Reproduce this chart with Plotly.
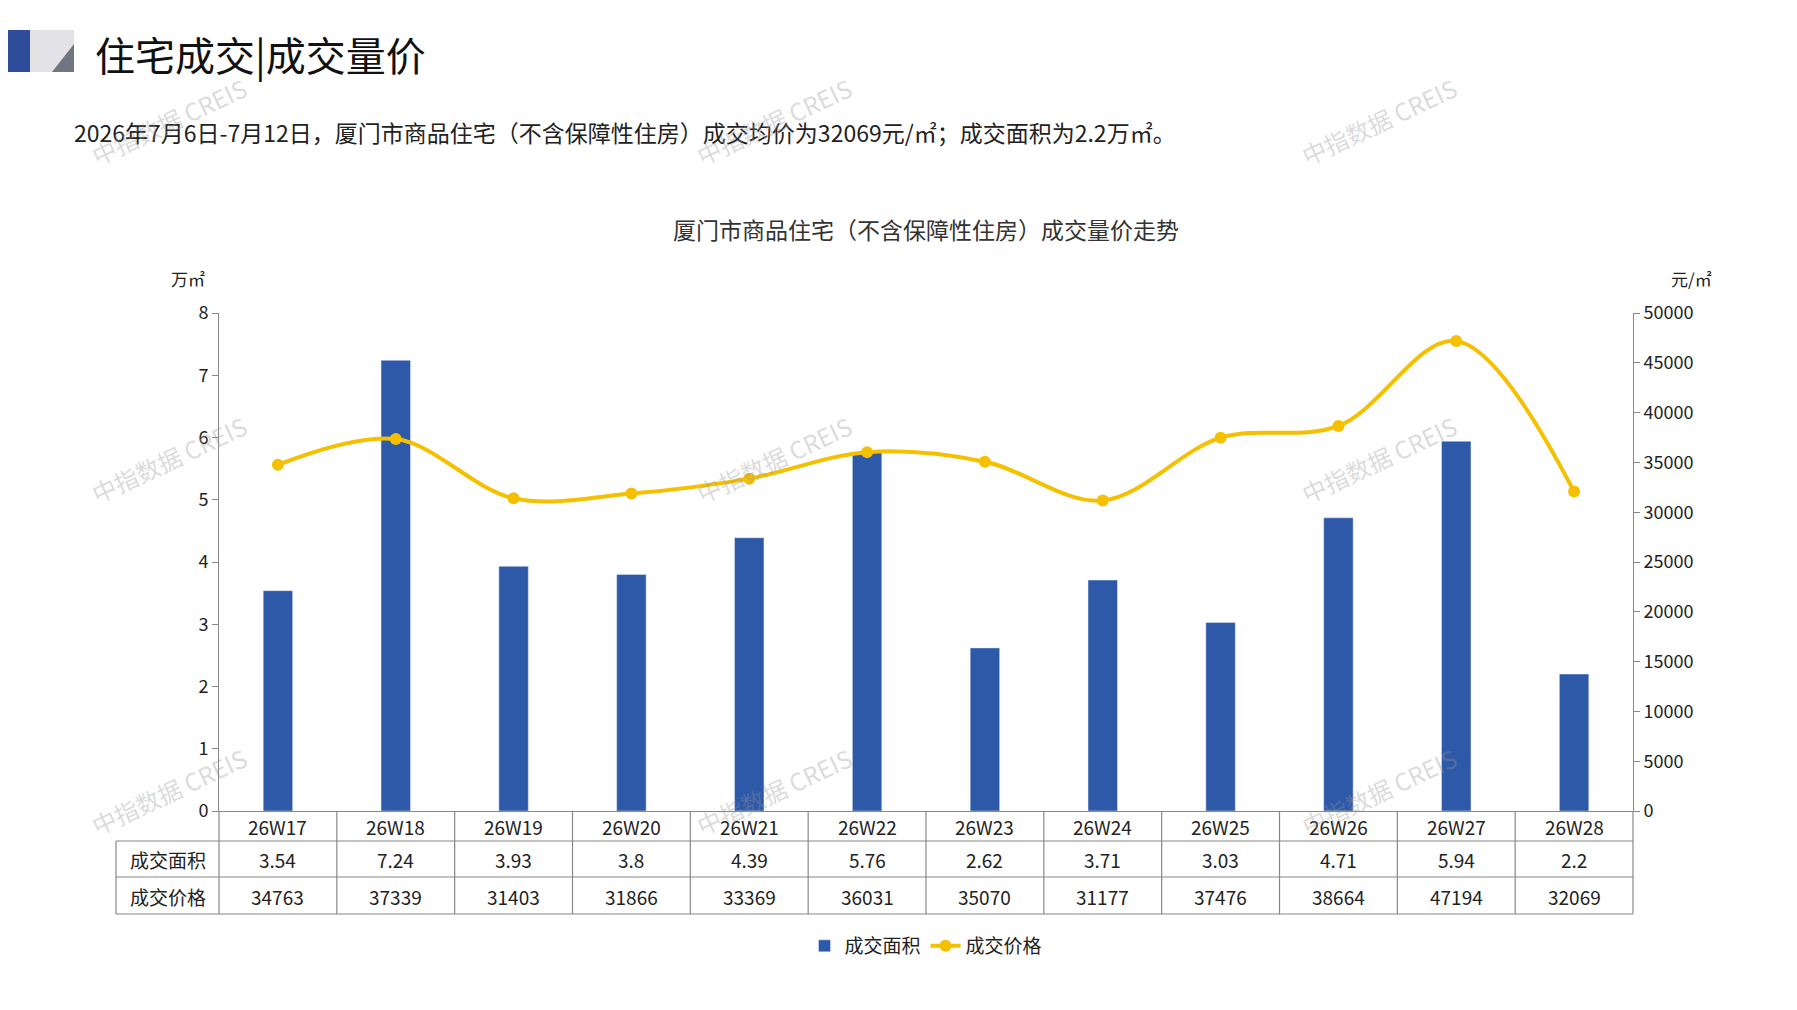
import plotly.graph_objects as go

weeks = ["26W17", "26W18", "26W19", "26W20", "26W21", "26W22", "26W23", "26W24", "26W25", "26W26", "26W27", "26W28"]
area = [3.54, 7.24, 3.93, 3.8, 4.39, 5.76, 2.62, 3.71, 3.03, 4.71, 5.94, 2.2]
price = [34763, 37339, 31403, 31866, 33369, 36031, 35070, 31177, 37476, 38664, 47194, 32069]
area_labels = ["3.54", "7.24", "3.93", "3.8", "4.39", "5.76", "2.62", "3.71", "3.03", "4.71", "5.94", "2.2"]

W, H = 1797, 1010
L, R, T, B = 211, 1625, 305, 803
FONT = "Noto Sans CJK SC"
BLUE = "#2E59A8"
GOLD = "#F5C000"

def px(x):
    return (x - L) / (R - L)

def py(y):
    return (B - y) / (B - T)

fig = go.Figure()
fig.add_trace(go.Bar(x=weeks, y=area, name="成交面积", marker_color=BLUE, width=0.25))
fig.add_trace(go.Scatter(x=weeks, y=price, name="成交价格", yaxis="y2", mode="lines+markers",
                         line=dict(color=GOLD, width=4, shape="spline", smoothing=1.0),
                         marker=dict(size=12, color=GOLD)))

shapes = []
ann = []
line = dict(color="#888888", width=1.2)
# table grid
rows = [803, 833, 869, 906]
for y in rows[1:]:
    shapes.append(dict(type="line", xref="paper", yref="paper", x0=px(108), x1=1, y0=py(y), y1=py(y), line=line))
shapes.append(dict(type="line", xref="paper", yref="paper", x0=px(108), x1=px(108), y0=py(833), y1=py(906), line=line))
for i in range(len(weeks) + 1):
    xp = i / len(weeks)
    shapes.append(dict(type="line", xref="paper", yref="paper", x0=xp, x1=xp, y0=py(803), y1=py(906), line=line))
for i, w in enumerate(weeks):
    for y, t in [(818, w), (851, area_labels[i]), (888, str(price[i]))]:
        ann.append(dict(xref="x", yref="paper", x=w, y=py(y), text=t, showarrow=False,
                        xanchor="center", yanchor="middle",
                        font=dict(size=19, color="#222", family=FONT)))
for y, t in [(851, "成交面积"), (888, "成交价格")]:
    ann.append(dict(xref="paper", yref="paper", x=px(160), y=py(y), text=t, showarrow=False,
                    xanchor="center", yanchor="middle",
                    font=dict(size=19, color="#222", family=FONT)))

# header decoration
shapes.append(dict(type="path", xref="paper", yref="paper",
                   path=f"M {px(-8)},{py(22)} L {px(32)},{py(22)} L {px(22)},{py(64)} L {px(-8)},{py(64)} Z",
                   fillcolor="#2E4C9A", line_width=0))
shapes.append(dict(type="path", xref="paper", yref="paper",
                   path=f"M {px(22)},{py(22)} L {px(66)},{py(22)} L {px(66)},{py(64)} L {px(22)},{py(64)} Z",
                   fillcolor="#E3E3E6", line_width=0))
shapes.append(dict(type="path", xref="paper", yref="paper",
                   path=f"M {px(44)},{py(64)} L {px(66)},{py(36)} L {px(66)},{py(64)} Z",
                   fillcolor="#6F7682", line_width=0))

ann += [
    dict(xref="paper", yref="paper", x=px(85), y=py(46), text="住宅成交|成交量价", showarrow=False,
         xanchor="left", yanchor="middle", font=dict(size=40, color="#111", family=FONT)),
    dict(xref="paper", yref="paper", x=px(64), y=py(124), showarrow=False, xanchor="left", yanchor="middle",
         text="2026年7月6日-7月12日，厦门市商品住宅（不含保障性住房）成交均价为32069元/㎡；成交面积为2.2万㎡。",
         font=dict(size=23, color="#222", family=FONT)),
    dict(xref="paper", yref="paper", x=0.5, y=py(221), showarrow=False, xanchor="center", yanchor="middle",
         text="厦门市商品住宅（不含保障性住房）成交量价走势", font=dict(size=23, color="#333", family=FONT)),
    dict(xref="paper", yref="paper", x=px(180), y=py(270), showarrow=False, text="万㎡",
         xanchor="center", yanchor="middle", font=dict(size=17, color="#222", family=FONT)),
    dict(xref="paper", yref="paper", x=px(1683), y=py(270), showarrow=False, text="元/㎡",
         xanchor="center", yanchor="middle", font=dict(size=17, color="#222", family=FONT)),
]
for wx, wy in [(160, 113), (765, 113), (1370, 113), (160, 451), (765, 451), (1370, 451), (160, 783), (765, 783), (1370, 783)]:
    ann.append(dict(xref="paper", yref="paper", x=px(wx), y=py(wy), text="中指数据 CREIS", showarrow=False,
                    xanchor="center", yanchor="middle",
                    textangle=-25, font=dict(size=24, color="rgba(150,150,150,0.35)", family=FONT)))

fig.update_layout(
    width=W, height=H, paper_bgcolor="white", plot_bgcolor="white",
    margin=dict(l=L, r=W - R, t=T, b=H - B),
    font=dict(family=FONT, size=18, color="#222"),
    xaxis=dict(showticklabels=False, showline=True, linecolor="#888", ticks="", range=[-0.5, 11.5]),
    yaxis=dict(range=[0, 8], dtick=1, showgrid=False, showline=True, linecolor="#888", ticks="outside",
               ticklen=6, tickcolor="#888", zeroline=False),
    yaxis2=dict(range=[0, 50000], dtick=5000, tickformat="d", overlaying="y", side="right", showgrid=False,
                showline=True, linecolor="#888", ticks="outside", ticklen=6, tickcolor="#888", zeroline=False),
    legend=dict(orientation="h", x=0.5, xanchor="center", y=py(938), yanchor="middle", font=dict(size=19)),
    shapes=shapes, annotations=ann, bargap=0.5,
)
fig.write_html("out.html")
